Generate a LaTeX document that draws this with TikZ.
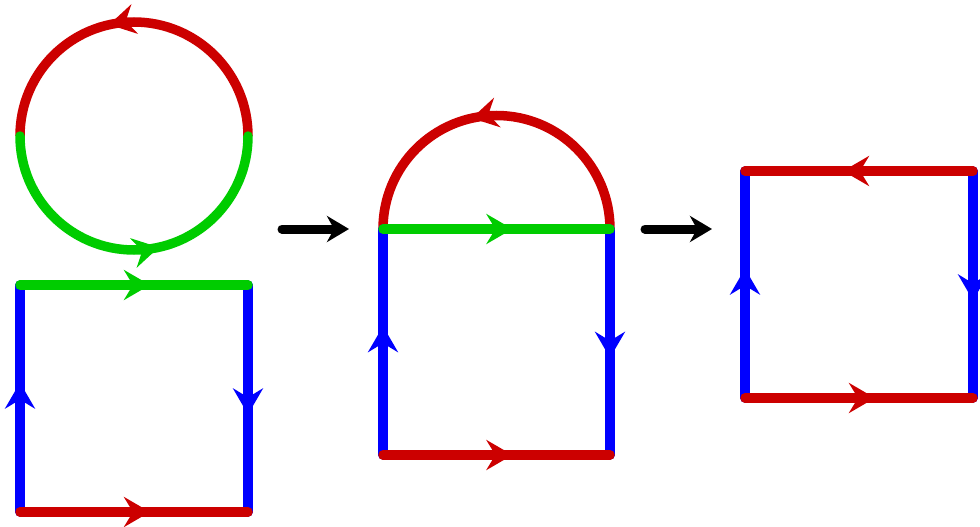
\documentclass[tikz,border=0pt]{standalone}
\usetikzlibrary{arrows.meta,decorations.markings}
\definecolor{cred}{RGB}{204,0,0}
\definecolor{cgreen}{RGB}{0,204,0}
\definecolor{cblue}{RGB}{0,0,255}
\tikzset{
  edge/.style={line width=9.5pt, line cap=round},
  flow/.style={postaction={decorate}, decoration={markings,
    mark=at position #1 with {\arrow{Stealth[length=26pt,width=30pt,inset=9pt]}}}},
  flow/.default=0.57,
  step arrow/.style={line width=9pt, line cap=round, -{Stealth[length=22pt,width=26pt,inset=7pt]}},
}
\begin{document}
\begin{tikzpicture}[x=1pt,y=-1pt]
\useasboundingbox (0,0) rectangle (980,527);
% --- circle above a square ---
\coordinate (cL) at (20,136);
\coordinate (cR) at (248,136);
\coordinate (a1) at (20,285);
\coordinate (a2) at (248,285);
\coordinate (a3) at (248,512);
\coordinate (a4) at (20,512);
\draw[edge, cred, line cap=butt, flow] (cR) arc[start angle=0, end angle=-180, radius=114];
\draw[edge, cgreen, flow] (cL) arc[start angle=180, end angle=0, radius=114];
\draw[edge, cblue, flow] (a4) -- (a1);
\draw[edge, cblue, flow] (a2) -- (a3);
\draw[edge, cgreen, flow] (a1) -- (a2);
\draw[edge, cred, flow] (a4) -- (a3);
% --- arrow to the glued shape ---
\coordinate (s1) at (282,229);
\coordinate (s2) at (349,229);
\draw[step arrow] (s1) -- (s2);
% --- half disc on a square ---
\coordinate (b1) at (383,229);
\coordinate (b2) at (610,229);
\coordinate (b3) at (610,455);
\coordinate (b4) at (383,455);
\draw[edge, cred, flow] (b2) arc[start angle=0, end angle=-180, radius=113.5];
\draw[edge, cblue, flow] (b4) -- (b1);
\draw[edge, cblue, flow] (b2) -- (b3);
\draw[edge, cgreen, flow] (b1) -- (b2);
\draw[edge, cred, flow] (b4) -- (b3);
% --- arrow to the final square ---
\coordinate (t1) at (645,229);
\coordinate (t2) at (712,229);
\draw[step arrow] (t1) -- (t2);
% --- final square ---
\coordinate (d1) at (745,171);
\coordinate (d2) at (973,171);
\coordinate (d3) at (973,398);
\coordinate (d4) at (745,398);
\draw[edge, cblue, flow] (d4) -- (d1);
\draw[edge, cblue, flow] (d2) -- (d3);
\draw[edge, cred, flow] (d2) -- (d1);
\draw[edge, cred, flow] (d4) -- (d3);
\end{tikzpicture}
\end{document}
